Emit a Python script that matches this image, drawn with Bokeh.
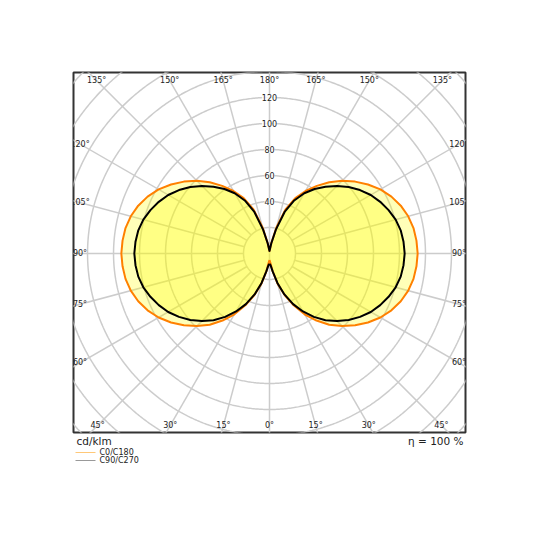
import numpy as np
from bokeh.plotting import figure
from bokeh.layouts import column
from bokeh.models import Range1d
from bokeh.embed import file_html
from bokeh.resources import INLINE
from bokeh.core.properties import value

# ---------------- data (cd/klm) ----------------
angles = [0, 5, 10, 15, 20, 25, 30, 35, 40, 45, 50, 55, 60, 65, 70, 75, 80, 85, 90,
          95, 100, 105, 110, 115, 120, 125, 130, 135, 140, 145, 150, 155, 160, 165, 170, 175, 180]
c0_c180 = [5, 7, 14, 24, 34, 44, 54, 63, 71.5, 79, 86, 92.5, 98.5, 103.5, 107.5, 110.5, 112.5, 113.5, 114,
           113.5, 112.5, 110.5, 107.5, 103.5, 98.5, 92.5, 86, 79, 71.5, 63.5, 55.5, 47, 36, 21, 8, 3, 2]
c90_c270 = [8, 9, 14, 23.5, 33.5, 43, 51.5, 59.5, 67, 73.5, 79.5, 85, 90, 94, 97.5, 100.5, 102.5, 103.5, 104,
            103.5, 102.5, 100.5, 97.5, 94, 90, 85, 79.5, 73.5, 67, 60.5, 53.5, 45, 34, 19, 8, 3, 2]
series_names = ["C0/C180", "C90/C270"]
legend_colors = ["#ffc878", "#999999"]
radial_ticks = [40, 60, 80, 100, 120]
grid_radii = [20, 40, 60, 80, 100, 120, 140, 160, 180, 200, 220]
angle_ticks = [0, 15, 30, 45, 60, 75, 90, 105, 120, 135, 150, 165, 180]
unit_label = "cd/klm"
eff_label = "η = 100 %"

FONT = "DejaVu Sans"
GRID = "#cccccc"

p = figure(width=532, height=434, output_backend="svg", toolbar_location=None,
           x_axis_type=None, y_axis_type=None,
           x_range=Range1d(-150.8, 150.8), y_range=Range1d(-137.7, 139.2),
           min_border_left=73, min_border_right=67, min_border_top=72, min_border_bottom=2)
p.outline_line_color = "#333333"
p.outline_line_width = 2
p.background_fill_color = "white"

# ---------------- grid ----------------
t = np.linspace(0, 2 * np.pi, 721)
p.multi_line(xs=[list(r * np.cos(t)) for r in grid_radii],
             ys=[list(r * np.sin(t)) for r in grid_radii],
             line_color=GRID, line_width=1.5)
rx, ry = [], []
for a in range(0, 360, 15):
    th = np.radians(a)
    r0 = 0 if a % 180 == 0 else 20
    rx.append([r0 * np.sin(th), 260 * np.sin(th)])
    ry.append([-r0 * np.cos(th), -260 * np.cos(th)])
p.multi_line(xs=rx, ys=ry, line_color=GRID, line_width=1.5)

# ---------------- curves ----------------
def closed(vals):
    th = np.radians(np.array(angles, dtype=float))
    r = np.array(vals, dtype=float)
    xr, yr = r * np.sin(th), -r * np.cos(th)
    xs = np.concatenate([xr, -xr[::-1]])
    ys = np.concatenate([yr, yr[::-1]])
    return xs, ys

xo, yo = closed(c0_c180)
xb, yb = closed(c90_c270)
p.patch(xo, yo, fill_color="#ffff00", fill_alpha=0.28, line_color=None)
p.patch(xb, yb, fill_color="#ffff00", fill_alpha=0.28, line_color=None)
p.line(xo, yo, line_color="#ff8000", line_width=2, line_join="round")
p.line(xb, yb, line_color="#000000", line_width=2, line_join="round")

# ---------------- labels ----------------
p.text(x=[0] * len(radial_ticks), y=radial_ticks, text=[str(v) for v in radial_ticks],
       text_font=value(FONT), text_font_size="8px", text_color="#222222",
       text_align="center", text_baseline="middle",
       background_fill_color="white", background_fill_alpha=0.8)

HW, TOP, BOT = 145.8, 133.0, 132.3
lx, ly, lt = [], [], []
for a in angle_ticks:
    th = np.radians(a)
    for s in ([1] if a in (0, 180) else [1, -1]):
        dx, dy = s * np.sin(th), -np.cos(th)
        cands = []
        if abs(dx) > 1e-9:
            cands.append(HW / abs(dx))
        if dy > 1e-9:
            cands.append(TOP / dy)
        if dy < -1e-9:
            cands.append(BOT / -dy)
        k = min(cands)
        lx.append(k * dx)
        ly.append(k * dy)
        lt.append(f"{a}°")
p.text(x=lx, y=ly, text=lt, text_font=value(FONT), text_font_size="8px",
       text_color="#222222", text_align="center", text_baseline="middle")

# ---------------- footer (units, efficiency, legend) ----------------
# footer frame spans the same horizontal pixels as the chart frame (73..465)
f = figure(width=532, height=60, output_backend="svg", toolbar_location=None,
           x_axis_type=None, y_axis_type=None,
           x_range=Range1d(73, 465), y_range=Range1d(60, 0),
           min_border_left=73, min_border_right=67, min_border_top=0, min_border_bottom=0)
f.outline_line_color = None
f.background_fill_color = "white"

f.text(x=[76], y=[0.5], text=[unit_label], text_font=value(FONT), text_font_size="10.5px",
       text_color="#222222", text_align="left", text_baseline="top")
f.text(x=[463], y=[0.5], text=[eff_label], text_font=value(FONT), text_font_size="10.5px",
       text_color="#222222", text_align="right", text_baseline="top")

leg_y = [18, 26]
f.multi_line(xs=[[75, 95], [75, 95]], ys=[[y, y] for y in leg_y],
             line_color=legend_colors, line_width=1)
f.text(x=[99, 99], y=leg_y, text=series_names, text_font=value(FONT), text_font_size="8px",
       text_color="#222222", text_align="left", text_baseline="middle")

layout = column(p, f, spacing=0)
open("out.html", "w").write(file_html(layout, INLINE))
